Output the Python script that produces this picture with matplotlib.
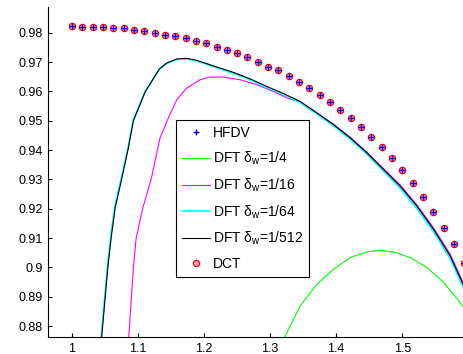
import numpy as np
import matplotlib

matplotlib.use("Agg")
import matplotlib.pyplot as plt
from matplotlib.ticker import FormatStrFormatter

plt.rcParams["font.family"] = ["Liberation Sans", "DejaVu Sans"]
plt.rcParams["mathtext.fontset"] = "custom"
plt.rcParams["mathtext.rm"] = "Liberation Sans"
plt.rcParams["mathtext.it"] = "Liberation Sans:italic"

# HFDV / DCT samples (same values), x step 1/64
sample_x = np.arange(39) / 64 + 1.0
hfdv_y = [0.9824, 0.9821, 0.9821, 0.9820, 0.9818, 0.9815, 0.9809, 0.9806,
          0.9800, 0.9794, 0.9789, 0.9781, 0.9773, 0.9765, 0.9752, 0.9743,
          0.9731, 0.9716, 0.9701, 0.9685, 0.9672, 0.9653, 0.9633, 0.9611,
          0.9589, 0.9565, 0.9538, 0.9509, 0.9479, 0.9445, 0.9412, 0.9372,
          0.9334, 0.9289, 0.9241, 0.9190, 0.9136, 0.9079, 0.9014]
dct_y = list(hfdv_y)

# DFT delta_w = 1/512
x512 = [1.035, 1.045, 1.0541, 1.0591, 1.0652, 1.0753, 1.0848, 1.0929, 1.1106,
        1.1323, 1.1435, 1.1586, 1.1738, 1.1889, 1.2091, 1.2444, 1.2697, 1.295,
        1.3202, 1.3455, 1.3708, 1.3959, 1.4212, 1.4465, 1.4717, 1.497, 1.5223,
        1.5474, 1.5727, 1.595]
y512 = [0.845, 0.8766, 0.8998, 0.9099, 0.9202, 0.9303, 0.9402, 0.9500, 0.9598,
        0.9677, 0.9697, 0.9711, 0.9713, 0.9706, 0.9691, 0.9665, 0.9643, 0.9617,
        0.9593, 0.9566, 0.9527, 0.9487, 0.9442, 0.9391, 0.9334, 0.9277, 0.9209,
        0.9130, 0.9039, 0.8928]

# DFT delta_w = 1/64 (almost on top of 1/512)
x64 = list(x512)
y64 = [0.847, 0.8785, 0.9015, 0.9115, 0.9215, 0.9312, 0.9409, 0.9504, 0.9600,
       0.9676, 0.9696, 0.9709, 0.9711, 0.9704, 0.9689, 0.9662, 0.9640, 0.9614,
       0.9590, 0.9562, 0.9523, 0.9483, 0.9437, 0.9386, 0.9328, 0.9270, 0.9201,
       0.9122, 0.9030, 0.8918]

# DFT delta_w = 1/16
x16 = [1.075, 1.0859, 1.0929, 1.097, 1.107, 1.1197, 1.1333, 1.1459, 1.1586,
       1.1738, 1.1939, 1.2091, 1.2293, 1.2545, 1.2798, 1.305, 1.3253, 1.3455,
       1.3708, 1.3959, 1.4212, 1.4465, 1.4717, 1.497, 1.5223, 1.5474, 1.5727,
       1.595]
y16 = [0.850, 0.8766, 0.8998, 0.9099, 0.9202, 0.9300, 0.9442, 0.9510, 0.9572,
       0.9612, 0.9640, 0.9649, 0.9649, 0.9640, 0.9623, 0.9600, 0.9578, 0.9564,
       0.9527, 0.9488, 0.9444, 0.9393, 0.9337, 0.9281, 0.9213, 0.9135, 0.9045,
       0.8935]

# DFT delta_w = 1/4
x4 = [1.30, 1.3227, 1.3455, 1.3708, 1.3959, 1.4212, 1.4465, 1.4641, 1.4868,
      1.5121, 1.5374, 1.5626, 1.595]
y4 = [0.868, 0.8766, 0.8869, 0.8943, 0.8994, 0.9034, 0.9053, 0.9058, 0.9053,
      0.9034, 0.9000, 0.8949, 0.8860]

x_ticks = [1, 1.1, 1.2, 1.3, 1.4, 1.5]
y_ticks = [0.88, 0.89, 0.90, 0.91, 0.92, 0.93, 0.94, 0.95, 0.96, 0.97, 0.98]

fig = plt.figure(figsize=(4.63, 3.54), dpi=100)
ax = fig.add_axes([48 / 463, 17 / 354, 415 / 463, 330 / 354])

ax.plot(sample_x, hfdv_y, "+", color="blue", ms=4, mew=1.0, zorder=5, label="HFDV")
ax.plot(x4, y4, color="#00ff00", lw=0.8, label="DFT δ$_{\\mathrm{w}}$=1/4")
ax.plot(x16, y16, color="#ff00ff", lw=0.8, label="DFT δ$_{\\mathrm{w}}$=1/16")
ax.plot(x64, y64, color="#00ffff", lw=1.2, label="DFT δ$_{\\mathrm{w}}$=1/64")
ax.plot(x512, y512, color="black", lw=0.8, label="DFT δ$_{\\mathrm{w}}$=1/512")
ax.plot(sample_x, dct_y, "o", mec="red", mfc="#ffb0b0", ms=4.5, mew=0.9,
        zorder=4, label="DCT")

ax.set_xlim(0.9636, 1.592)
ax.set_ylim(0.8763, 0.9888)
ax.set_xticks(x_ticks)
ax.set_yticks(y_ticks)
ax.xaxis.set_major_formatter(FormatStrFormatter("%g"))
ax.yaxis.set_major_formatter(FormatStrFormatter("%g"))
ax.tick_params(direction="in", length=3, width=0.8, labelsize=9, pad=4)
ax.spines["top"].set_visible(False)
ax.spines["right"].set_visible(False)

leg = ax.legend(loc="upper left", bbox_to_anchor=(0.308, 0.658), borderaxespad=0,
                fontsize=10, fancybox=False, edgecolor="black", framealpha=1,
                handlelength=2.0, handletextpad=0.2, labelspacing=0.68,
                borderpad=0.45)
leg.get_frame().set_linewidth(0.8)

fig.savefig("out.png", dpi=100)
